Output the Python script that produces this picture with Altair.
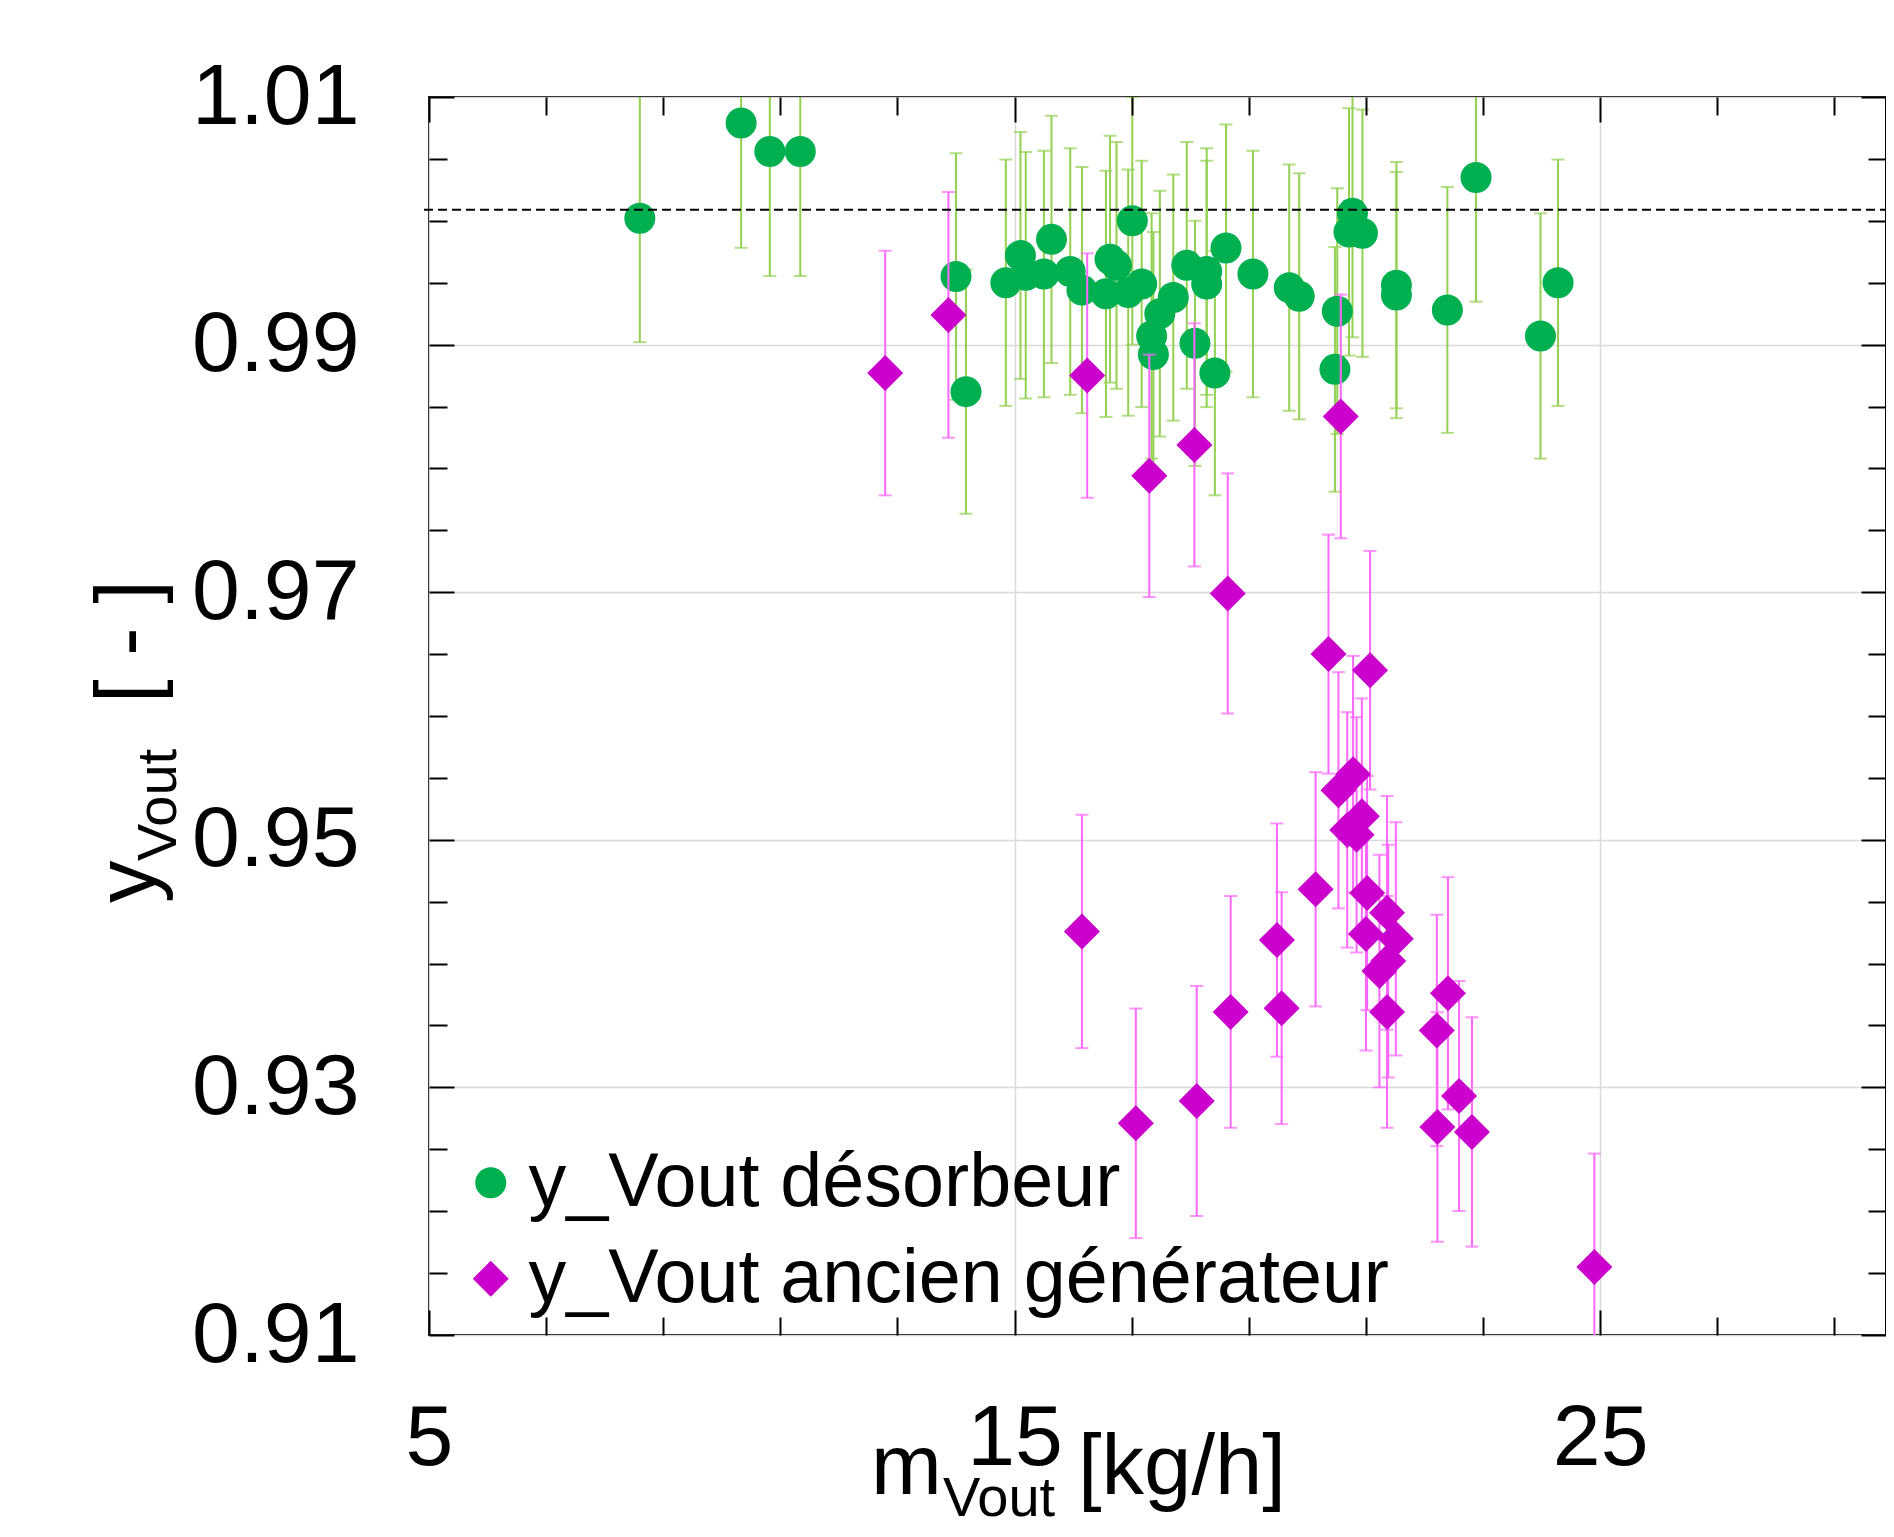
import altair as alt
import pandas as pd

# ---------------- data ----------------
LBL_DES = "y_Vout désorbeur"
LBL_ANC = "y_Vout ancien générateur"

des_x = [8.60, 10.33, 10.82, 11.34, 14.00, 14.17, 14.85, 15.10, 15.19, 15.50,
         15.63, 15.95, 16.15, 16.56, 16.63, 16.74, 16.94, 17.01, 17.17, 17.34,
         17.37, 17.48, 17.71, 17.94, 18.08, 18.28, 18.28, 18.42, 18.61, 19.07,
         19.69, 19.86, 20.47, 20.51, 20.71, 20.77, 20.94, 21.52, 21.52, 22.39,
         22.88, 23.98, 24.28]
des_y = [1.0002, 1.0079, 1.0056, 1.0056, 0.9955, 0.9862, 0.9950, 0.9972, 0.9956, 0.9957,
         0.9985, 0.9959, 0.9944, 0.9941, 0.9969, 0.9964, 0.9942, 1.0000, 0.9949, 0.9907,
         0.9892, 0.9925, 0.9938, 0.9964, 0.9901, 0.9959, 0.9949, 0.9877, 0.9978, 0.9957,
         0.9946, 0.9939, 0.9880, 0.9927, 0.9991, 1.0006, 0.9990, 0.9948, 0.9940, 0.9928,
         1.0035, 0.9907, 0.9950]

anc_x = [12.79, 13.87, 16.24, 17.30, 18.07, 20.57, 18.64, 20.36, 21.07, 20.53,
         20.78, 20.93, 20.68, 20.84, 16.15, 19.48, 20.14, 21.02, 21.36, 21.00,
         21.51, 21.38, 21.23, 21.36, 19.56, 22.40, 22.21, 22.59, 22.22, 22.81,
         24.90, 17.07, 18.11, 18.69]
anc_y = [0.9877, 0.9924, 0.9875, 0.9794, 0.9819, 0.9842, 0.9699, 0.9650, 0.9637, 0.9540,
         0.9553, 0.9519, 0.9508, 0.9504, 0.9426, 0.9419, 0.9460, 0.9457, 0.9441, 0.9424,
         0.9420, 0.9402, 0.9394, 0.9361, 0.9364, 0.9376, 0.9346, 0.9293, 0.9268, 0.9264,
         0.9155, 0.9271, 0.9289, 0.9361]

REL_ERR = 0.01          # error bars are +/- 1 % of the value
REF_Y = 1.0009          # dashed reference line

X_LABELS = [5, 15, 25]
X_MINOR = [7, 9, 11, 13, 17, 19, 21, 23, 27, 29]
Y_LABELS = [0.91, 0.93, 0.95, 0.97, 0.99, 1.01]
Y_MINOR = [0.915, 0.92, 0.925, 0.935, 0.94, 0.945, 0.955, 0.96, 0.965,
           0.975, 0.98, 0.985, 0.995, 1.0, 1.005]

# ---------------- styling ----------------
FONT = "Liberation Sans"
G_PT, G_ERR = "#00B050", "#92D050"
M_PT, M_ERR = "#CC00CC", "#FF66FF"
W, H = 1457, 1238        # plot area (the right edge is cut by the picture)
X_MAX = 5 + W / 58.56    # keep the reference's px-per-unit

des = pd.DataFrame({"x": des_x, "y": des_y, "series": LBL_DES})
anc = pd.DataFrame({"x": anc_x, "y": anc_y, "series": LBL_ANC})
for d in (des, anc):
    d["lo"] = d["y"] * (1 - REL_ERR)
    d["hi"] = d["y"] * (1 + REL_ERR)

xs = alt.Scale(domain=[5, X_MAX], nice=False, zero=False)
ys = alt.Scale(domain=[0.91, 1.01], nice=False, zero=False)

ax_x_main = alt.Axis(orient="bottom", values=X_LABELS, format="d", labelFont=FONT,
                     labelFontSize=86, labelColor="black", labelPadding=61,
                     labelFlush=False, labelOverlap=False, ticks=False, domain=False,
                     grid=True, gridColor="#d9d9d9", gridWidth=1.5, title=None, zindex=0)
ax_y_main = alt.Axis(orient="left", values=Y_LABELS, format=".2f", labelFont=FONT,
                     labelFontSize=86, labelColor="black", labelPadding=70,
                     labelFlush=False, labelOverlap=False, ticks=False, domain=False,
                     grid=True, gridColor="#d9d9d9", gridWidth=1.5, title=None, zindex=0)


def tick_axis(orient, offset, values, size):
    # axis moved across the plot so that its ticks point inwards
    return alt.Axis(orient=orient, offset=offset, values=values, labels=False,
                    grid=False, domain=False, ticks=True, tickSize=size, tickWidth=2,
                    tickColor="black", title=None, zindex=1)


series_dom = [LBL_DES, LBL_ANC]
leg = alt.Legend(title=None, orient="none", legendX=19, legendY=1043, labelFont=FONT,
                 labelFontSize=75.5, labelColor="black", labelLimit=0, labelOffset=0,
                 rowPadding=19, padding=5, symbolStrokeWidth=0, symbolOpacity=1)
col = alt.Color("series:N", scale=alt.Scale(domain=series_dom, range=[G_PT, M_PT]), legend=leg)
shp = alt.Shape("series:N", scale=alt.Scale(domain=series_dom, range=["circle", "diamond"]), legend=leg)
siz = alt.Size("series:N", scale=alt.Scale(type="ordinal", domain=series_dom, range=[961, 1296]), legend=leg)


def err_layers(df, color, axes):
    (axr, ayr), (axl, ayl), (axh, ayh) = axes
    rule = alt.Chart(df).mark_rule(color=color, strokeWidth=2, clip=True).encode(
        x=alt.X("x:Q", scale=xs, axis=axr), y=alt.Y("lo:Q", scale=ys, axis=ayr), y2="hi:Q")
    lo = alt.Chart(df).mark_tick(color=color, orient="horizontal", size=13, thickness=2,
                                 clip=True).encode(
        x=alt.X("x:Q", scale=xs, axis=axl), y=alt.Y("lo:Q", scale=ys, axis=ayl))
    hi = alt.Chart(df).mark_tick(color=color, orient="horizontal", size=13, thickness=2,
                                 clip=True).encode(
        x=alt.X("x:Q", scale=xs, axis=axh), y=alt.Y("hi:Q", scale=ys, axis=ayh))
    return [rule, lo, hi]


def pts_layer(df, axx, axy):
    return alt.Chart(df).mark_point(filled=True, opacity=1, strokeWidth=0).encode(
        x=alt.X("x:Q", scale=xs, axis=axx), y=alt.Y("y:Q", scale=ys, axis=axy),
        color=col, shape=shp, size=siz)


des_err = err_layers(des, G_ERR, [
    (ax_x_main, ax_y_main),
    (tick_axis("bottom", -H, X_LABELS, 25), tick_axis("right", -W, Y_LABELS, 25)),
    (tick_axis("bottom", -H, X_MINOR, 18), tick_axis("right", -W, Y_MINOR, 18)),
])
des_pts = pts_layer(des, tick_axis("top", -H, X_LABELS, 25), tick_axis("left", -W, Y_LABELS, 25))
anc_err = err_layers(anc, M_ERR, [
    (tick_axis("top", -H, X_MINOR, 18), tick_axis("left", -W, Y_MINOR, 18)),
    (None, None),
    (None, None),
])
anc_pts = pts_layer(anc, None, None)

ref = alt.Chart(pd.DataFrame({"ref": [REF_Y]})).mark_rule(
    color="black", strokeDash=[9, 5], strokeWidth=2).encode(
    y=alt.Y("ref:Q", scale=ys, axis=None), x=alt.value(-5), x2=alt.value(W))


def txt(s, size, xpx, ypx, angle=0):
    return alt.Chart(pd.DataFrame({"t": [s]})).mark_text(
        font=FONT, fontSize=size, color="black", align="left", baseline="alphabetic",
        angle=angle).encode(text="t:N", x=alt.value(xpx), y=alt.value(ypx))


titles = [
    txt("m", 85, 442, 1397),
    txt("Vout", 56, 514, 1419),
    txt("[kg/h]", 85, 649, 1397),
    txt("y", 85, -274, 806, 270),
    txt("Vout", 56, -253, 764, 270),
    txt("[ - ]", 85, -274, 606, 270),
]

chart = alt.layer(
    *des_err, des_pts, *anc_err, anc_pts, ref, *titles
).resolve_axis(x="independent", y="independent").properties(
    width=W, height=H,
    autosize=alt.AutoSizeParams(type="none"),
    padding={"left": 421, "top": 89, "right": 0, "bottom": 194},
).configure(background="white").configure_view(stroke="black", strokeWidth=2)

chart.save("out.html", embed_options={"renderer": "svg", "actions": False})
